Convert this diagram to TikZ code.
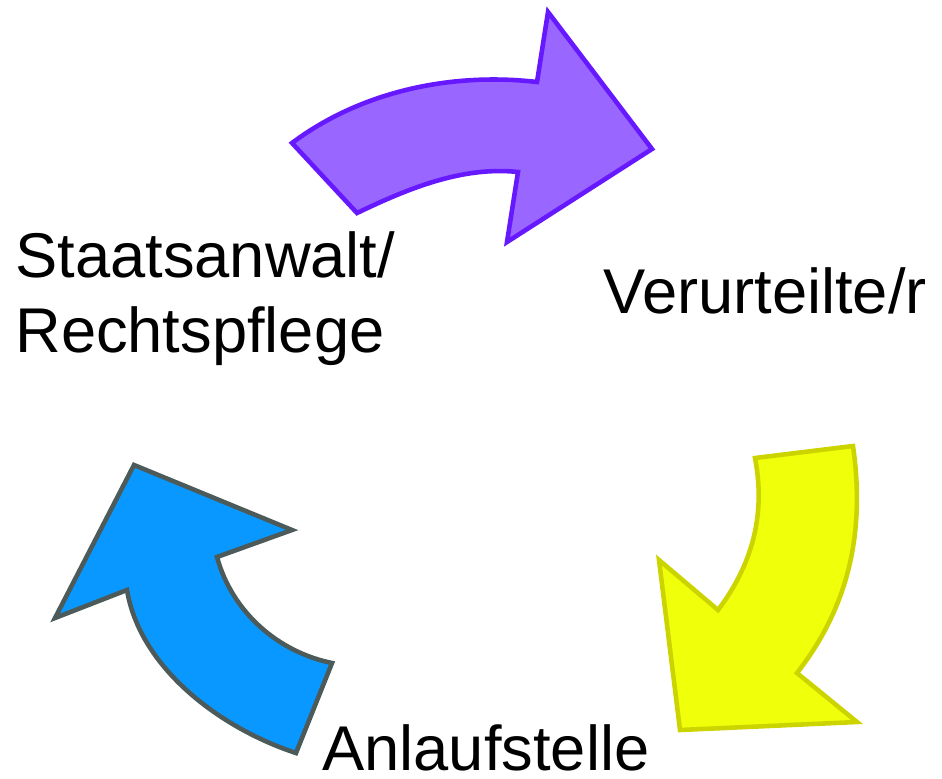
\documentclass[tikz,border=0pt]{standalone}
\usepackage{fontspec}
\setmainfont{Liberation Sans}
\definecolor{lila}{HTML}{9966FF}
\definecolor{lilarand}{HTML}{6619FF}
\definecolor{gelb}{HTML}{F0FF0A}
\definecolor{gelbrand}{HTML}{CCD400}
\definecolor{blau}{HTML}{0898FF}
\definecolor{blaurand}{HTML}{4D5A5A}
\tikzset{pfeil/.style={line width=2.6pt, line join=miter},
         rolle/.style={inner sep=0pt, font=\fontsize{36}{43}\selectfont}}

\begin{document}
\begin{tikzpicture}[x=0.02cm, y=-0.02cm]
  \useasboundingbox (0,0) rectangle (942,778);
  % Pfeile
  \draw[pfeil, draw=lilarand, fill=lila] (292,143) .. controls (360,92) and (450,72) .. (537,82) -- (548,12) -- (652,149) -- (507,242) -- (518,172) .. controls (462,166) and (407,189) .. (357,213) -- cycle;
  \draw[pfeil, draw=gelbrand, fill=gelb] (755,458) -- (853,446) .. controls (865,530) and (850,605) .. (797,673) -- (857,722) -- (680,730) -- (659,560) -- (718,610) .. controls (752,565) and (766,515) .. (755,458) -- cycle;
  \draw[pfeil, draw=blaurand, fill=blau] (134,465) -- (292,530) -- (217,557) .. controls (232,612) and (278,652) .. (332,663) -- (296,753) .. controls (220,728) and (140,668) .. (127,590) -- (55,618) -- cycle;
  % Beschriftungen
  \node[rolle, anchor=north west, align=left] (staat) at (15,231) {Staatsanwalt/\\Rechtspflege};
  \node[rolle, anchor=base west] (verurteilt) at (603,313) {Verurteilte/r};
  \node[rolle, anchor=base west] (anlauf) at (322,770) {Anlaufstelle};
\end{tikzpicture}
\end{document}
